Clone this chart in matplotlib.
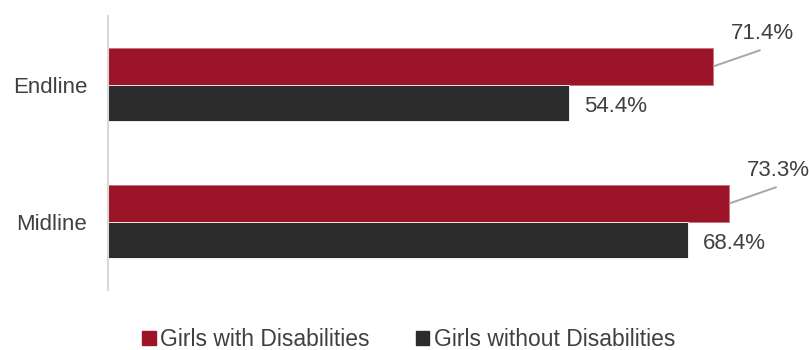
import matplotlib.pyplot as plt
from matplotlib.patches import Patch

categories = ['Midline', 'Endline']
with_dis = [73.3, 71.4]
without_dis = [68.4, 54.4]
series_names = ['Girls with Disabilities', 'Girls without Disabilities']

red = '#9b1427'
dark = '#2b2b2b'
txt = '#404040'

plt.rcParams['font.family'] = ['Liberation Sans', 'DejaVu Sans']

fig = plt.figure(figsize=(8.09, 3.5), dpi=100)
ax = fig.add_axes([108 / 809, 1 - 290 / 350, 678 / 809, 274 / 350])

pos = range(len(categories))
h = 0.263
bars_red = ax.barh([p + h / 2 for p in pos], with_dis, height=h, color=red,
                   edgecolor='#c9707d', linewidth=0.6)
bars_dark = ax.barh([p - h / 2 for p in pos], without_dis, height=h, color=dark,
                    edgecolor='white', linewidth=0.6)

# red bar labels sit up and to the right, joined to the bar end by a thin line
for b, v in zip(bars_red, with_dis):
    y = b.get_y() + b.get_height() / 2
    ax.plot([v, v + 5.6], [y, y + 0.12], color='#a6a6a6', lw=1.4,
            solid_capstyle='butt')
    ax.text(v + 2.1, y + 0.24, f'{v}%', ha='left', va='center',
            fontsize=16, color=txt)
for b, v in zip(bars_dark, without_dis):
    y = b.get_y() + b.get_height() / 2
    ax.text(v + 1.8, y - 0.03, f'{v}%', ha='left', va='center',
            fontsize=16, color=txt)

ax.set_xlim(0, 80)
ax.set_ylim(-0.5, 1.5)
ax.set_yticks(list(pos))
ax.set_yticklabels(categories, fontsize=16, color=txt)
ax.tick_params(axis='y', length=0, pad=15)
ax.set_xticks([])
for s in ['top', 'right', 'bottom']:
    ax.spines[s].set_visible(False)
ax.spines['left'].set_color('#d9d9d9')
ax.spines['left'].set_linewidth(1.5)

handles = [Patch(color=red), Patch(color=dark)]
fig.legend(handles, series_names, loc='center', bbox_to_anchor=(0.505, 0.03),
           ncol=2, frameon=False, fontsize=16.5, labelcolor=txt,
           handlelength=0.6, handleheight=0.6, handletextpad=0.2,
           columnspacing=2.0)

fig.savefig('out.png', dpi=100)
